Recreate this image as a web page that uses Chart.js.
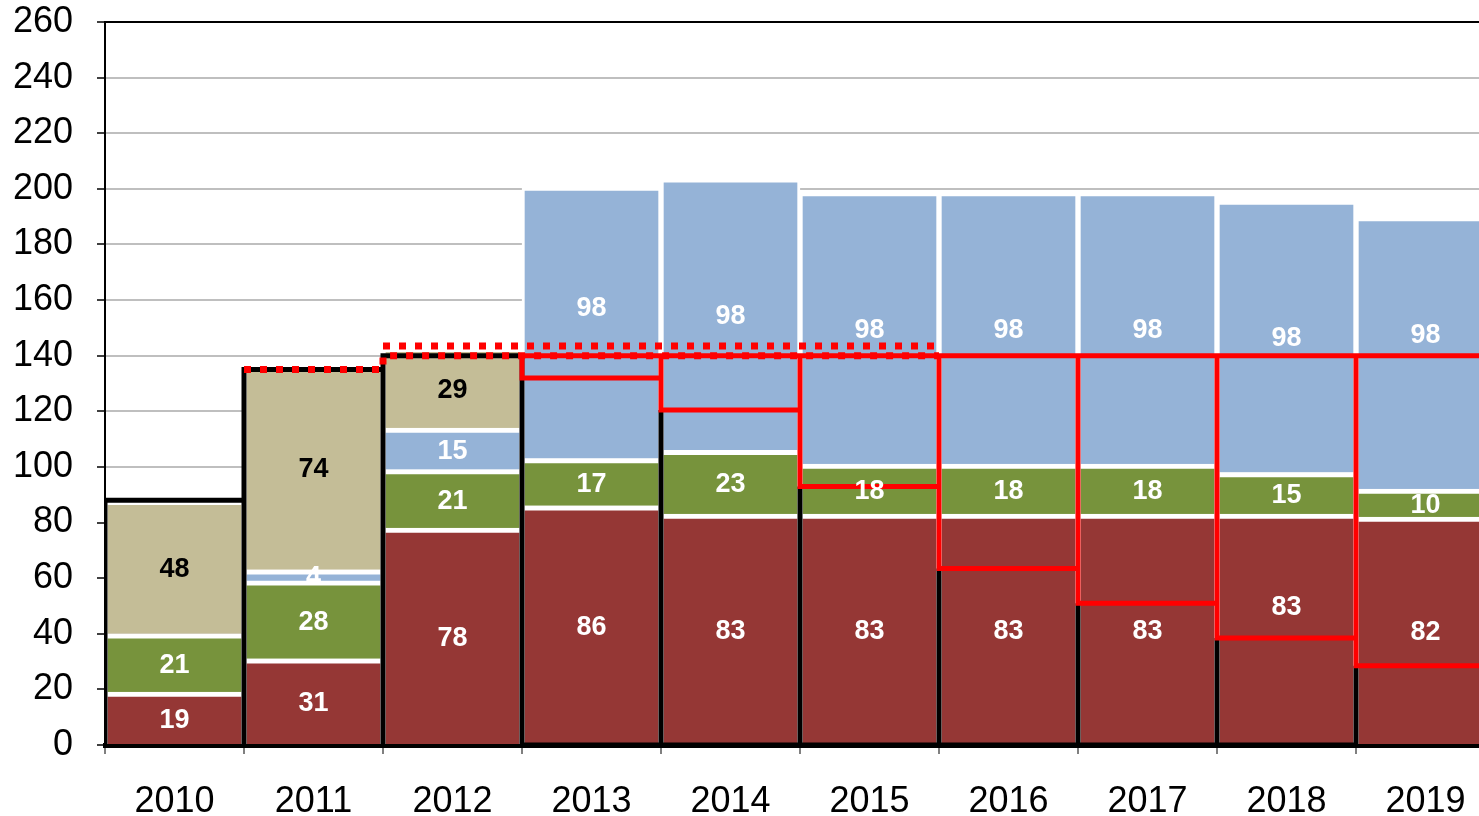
<!DOCTYPE html>
<html>
<head>
<meta charset="utf-8">
<script src="https://cdn.jsdelivr.net/npm/chart.js@4.4.1/dist/chart.umd.min.js"></script>
<style>
  html, body { margin: 0; padding: 0; background: #fff; overflow: hidden; }
  #wrap { width: 1500px; height: 816px; }
</style>
</head>
<body>
<div id="wrap"><canvas id="chart" width="1500" height="816"></canvas></div>
<script>
const years = ["2010", "2011", "2012", "2013", "2014", "2015", "2016", "2017", "2018", "2019"];

// stacked segments, bottom to top
const redSeries   = [19, 31, 78, 86, 83, 83, 83, 83, 83, 82];
const greenSeries = [21, 28, 21, 17, 23, 18, 18, 18, 15, 10];
const blueSeries  = [null, 4, 15, 98, 98, 98, 98, 98, 98, 98];
const tanSeries   = [48, 74, 29, null, null, null, null, null, null, null];

// black outline of the first bars
const blackTop = [88, 135, 140, null, null, null, null, null, null, null];
// red step boxes
const redUpper = [null, null, null, 140, 140, 140, 140, 140, 140, 140];
const redLower = [null, null, null, 132, 120.5, 93, 63.5, 51, 38.5, 28.5];
// red dotted levels
const dottedLow  = [null, 135, 140, 140, 140, 140, null, null, null, null];
const dottedHigh = [null, null, 143.5, 143.5, 143.5, 143.5, null, null, null, null];

const yTicks = [0, 20, 40, 60, 80, 100, 120, 140, 160, 180, 200, 220, 240, 260];

const FONT = "'Liberation Sans', Arial, sans-serif";

// PATHS (category i spans i-0.5 .. i+0.5 on the hidden linear axis)
function blackPath() {
  const pts = [];
  years.forEach((yr, i) => {
    const l = i - 0.5, r = i + 0.5;
    if (blackTop[i] != null) {
      pts.push({ x: l, y: 0 }, { x: l, y: blackTop[i] }, { x: r, y: blackTop[i] }, { x: r, y: 0 });
    } else if (redLower[i] != null) {
      pts.push({ x: l, y: 0 }, { x: l, y: redLower[i] }, { x: l, y: 0 });
    }
  });
  return pts;
}

function redPath() {
  const pts = [];
  let first = -1;
  redLower.forEach((v, i) => {
    if (v == null) return;
    if (first < 0) first = i;
    pts.push({ x: i - 0.5, y: redUpper[i] }, { x: i - 0.5, y: v },
             { x: i + 0.5, y: v }, { x: i + 0.5, y: redUpper[i] });
  });
  pts.push({ x: first - 0.5, y: redUpper[first] });
  return pts;
}

function levelPath(values) {
  const pts = [];
  values.forEach((v, i) => {
    if (v == null) return;
    pts.push({ x: i - 0.5, y: v }, { x: i + 0.5, y: v });
  });
  return pts;
}

// LABELS
const labelNudge = { "2-3": -16, "0-8": -24, "2-9": -20 };

const barLabels = {
  id: "barLabels",
  afterDatasetsDraw(chart) {
    const ctx = chart.ctx;
    ctx.save();
    ctx.font = "bold 27px " + FONT;
    ctx.textAlign = "center";
    ctx.textBaseline = "middle";
    chart.data.datasets.forEach((ds, di) => {
      if (ds.type !== "bar") return;
      const meta = chart.getDatasetMeta(di);
      meta.data.forEach((bar, i) => {
        const v = ds.data[i];
        if (v == null) return;
        const nudge = labelNudge[di + "-" + i] || 0;
        ctx.fillStyle = ds.labelColor;
        ctx.fillText(String(v), bar.x, (bar.y + 5 + bar.base) / 2 + nudge);
      });
    });
    ctx.restore();
  }
};

function barSet(label, data, color, labelColor) {
  return {
    type: "bar",
    label: label,
    data: data,
    backgroundColor: color,
    borderColor: "#ffffff",
    borderWidth: { top: 5, left: 3, right: 3, bottom: 0 },
    borderSkipped: false,
    barPercentage: 1,
    categoryPercentage: 1,
    grouped: false,
    order: 10,
    labelColor: labelColor
  };
}

function lineSet(label, data, color, width, dash, order) {
  return {
    type: "line",
    label: label,
    data: data,
    xAxisID: "xl",
    yAxisID: "yl",
    borderColor: color,
    borderWidth: width,
    borderDash: dash,
    borderJoinStyle: "miter",
    borderCapStyle: "butt",
    pointRadius: 0,
    fill: false,
    tension: 0,
    order: order
  };
}

new Chart(document.getElementById("chart"), {
  type: "bar",
  data: {
    labels: years,
    datasets: [
      barSet("A", redSeries, "#953735", "#ffffff"),
      barSet("B", greenSeries, "#77933C", "#ffffff"),
      barSet("C", blueSeries, "#95B3D7", "#ffffff"),
      barSet("D", tanSeries, "#C4BD97", "#000000"),
      lineSet("outline", blackPath(), "#000000", 5, [], 4),
      lineSet("steps", redPath(), "#FF0000", 5, [], 3),
      lineSet("dots low", levelPath(dottedLow), "#FF0000", 7, [7, 9], 2),
      lineSet("dots high", levelPath(dottedHigh), "#FF0000", 7, [7, 9], 1)
    ]
  },
  options: {
    responsive: false,
    animation: false,
    devicePixelRatio: 1,
    events: [],
    layout: { padding: { top: 0, right: 5, left: 0, bottom: 0 } },
    plugins: {
      legend: { display: false },
      tooltip: { enabled: false }
    },
    scales: {
      x: {
        type: "category",
        stacked: true,
        offset: true,
        z: 1,
        grid: { offset: true, drawOnChartArea: false, drawTicks: true, tickLength: 9, color: "#808080", lineWidth: 2 },
        border: { display: true, color: "#000000", width: 5 },
        ticks: { color: "#000000", font: { size: 36, family: FONT }, padding: 26, maxRotation: 0, autoSkip: false },
        afterFit(s) { s.height = 71; }
      },
      xl: {
        type: "linear",
        display: false,
        offset: false,
        min: -0.5,
        max: 9.5
      },
      y: {
        type: "linear",
        stacked: true,
        min: yTicks[0],
        max: yTicks[yTicks.length - 1],
        ticks: { stepSize: yTicks[1] - yTicks[0], color: "#000000", font: { size: 36, family: FONT }, padding: 24 },
        grid: {
          color: (c) => (c.tick && c.tick.value === yTicks[yTicks.length - 1] ? "#000000" : "#BFBFBF"),
          lineWidth: 2,
          tickColor: "#404040",
          tickLength: 8,
          tickWidth: 2
        },
        border: { display: true, color: "#000000", width: 2 },
        afterFit(s) { s.width = 105; s.paddingTop = 22; s.paddingBottom = 0; }
      },
      yl: {
        type: "linear",
        display: false,
        min: yTicks[0],
        max: yTicks[yTicks.length - 1]
      }
    }
  },
  plugins: [barLabels]
});
</script>
</body>
</html>
